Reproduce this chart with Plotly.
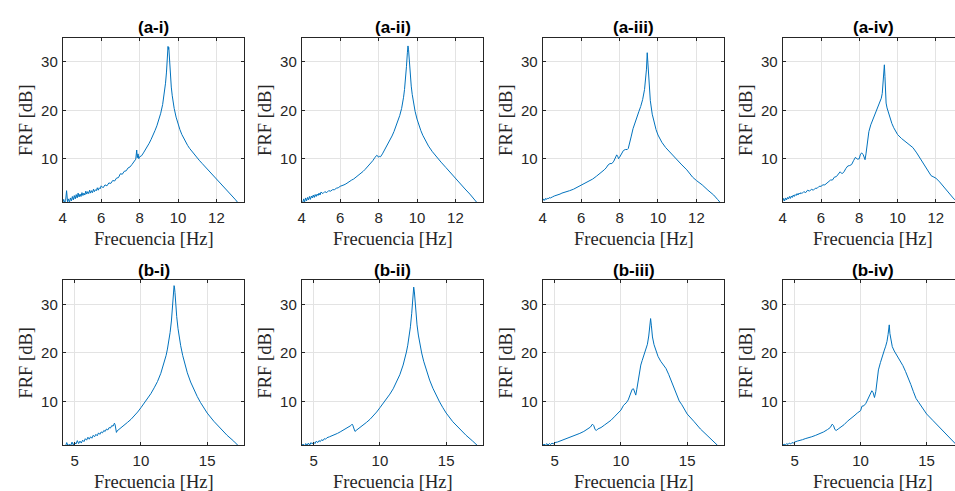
import plotly.graph_objects as go

# ---------------- data: (frequency [Hz], FRF [dB]) ----------------
A_I = [(4.0,1.0),(4.05,1.6),(4.1,0.9),(4.15,1.4),(4.2,3.4),(4.25,1.1),(4.3,1.7),(4.35,1.0),(4.4,1.9),(4.45,1.3),
       (4.5,2.2),(4.55,1.5),(4.6,2.4),(4.65,1.7),(4.7,2.6),(4.75,1.9),(4.8,2.9),(4.85,2.1),(4.9,2.7),(4.95,2.2),
       (5.0,3.0),(5.05,2.4),(5.1,2.9),(5.15,2.5),(5.2,3.3),(5.25,2.7),(5.3,3.2),(5.35,2.8),(5.4,3.5),(5.45,2.9),
       (5.5,3.4),(5.55,3.0),(5.6,3.7),(5.65,3.2),(5.7,3.6),(5.75,3.4),(5.8,4.0),(5.85,3.5),(5.9,4.0),(5.95,3.8),
       (6.0,4.4),(6.1,4.0),(6.2,4.6),(6.3,4.4),(6.4,5.0),(6.5,4.9),(6.6,5.5),(6.7,5.4),(6.8,6.0),(6.9,6.1),
       (7.0,6.9),(7.1,6.8),(7.2,7.4),(7.3,7.5),(7.4,8.1),(7.5,8.3),(7.6,8.8),(7.7,9.3),(7.8,9.9),(7.85,11.8),
       (7.88,10.2),(7.92,11.0),(7.96,10.0),(8.0,10.4),(8.1,10.6),(8.2,11.2),(8.3,11.8),(8.4,12.5),(8.5,13.2),
       (8.6,14.0),(8.7,14.8),(8.8,15.8),(8.9,16.8),(9.0,18.0),(9.1,19.4),(9.2,21.2),(9.25,22.4),(9.3,23.8),
       (9.35,25.6),(9.4,27.9),(9.45,31.0),(9.48,33.2),(9.5,32.6),(9.52,33.0),(9.55,30.5),(9.6,27.0),(9.65,24.8),
       (9.7,23.0),(9.75,21.6),(9.8,20.4),(9.9,18.6),(10.0,17.2),(10.1,16.0),(10.2,15.0),(10.3,14.15),(10.4,13.4),
       (10.5,12.75),(10.6,12.15),(10.8,11.1),(11.0,10.15),(11.1,9.7),(11.25,9.05),(11.5,8.0),(11.75,6.9),
       (12.0,5.75),(12.25,4.7),(12.5,3.65),(12.75,2.6),(13.0,1.5),(13.1,1.0),(13.15,0.8)]

A_II = [(4.0,1.2),(4.05,0.9),(4.1,1.7),(4.15,1.1),(4.2,1.9),(4.25,1.3),(4.3,2.0),(4.35,1.5),(4.4,2.2),(4.45,1.6),
        (4.5,2.3),(4.55,1.9),(4.6,2.5),(4.65,2.0),(4.7,2.6),(4.75,2.2),(4.8,2.7),(4.85,2.4),(4.9,2.9),(4.95,2.5),
        (5.0,3.1),(5.1,2.8),(5.2,3.2),(5.3,3.0),(5.4,3.4),(5.5,3.3),(5.6,3.6),(5.7,3.6),(5.8,3.9),(5.9,4.0),
        (6.0,4.3),(6.1,4.4),(6.2,4.6),(6.3,4.8),(6.4,5.1),(6.5,5.3),(6.6,5.6),(6.7,5.8),(6.8,6.1),(6.9,6.4),
        (7.0,6.8),(7.1,7.1),(7.2,7.4),(7.3,7.8),(7.4,8.2),(7.5,8.6),(7.6,9.1),(7.7,9.6),(7.8,10.2),(7.9,10.7),
        (7.95,10.6),(8.0,10.3),(8.05,10.5),(8.1,10.4),(8.2,11.0),(8.3,11.7),(8.4,12.4),(8.5,13.1),(8.6,13.9),
        (8.7,14.7),(8.8,15.6),(8.9,16.6),(9.0,17.7),(9.1,18.9),(9.2,20.4),(9.25,21.4),(9.3,22.7),(9.35,24.3),
        (9.4,26.3),(9.45,29.0),(9.5,32.0),(9.53,33.3),(9.56,32.5),(9.6,30.0),(9.65,27.2),(9.7,25.0),(9.75,23.3),
        (9.8,21.8),(9.85,20.7),(9.9,19.8),(10.0,18.2),(10.1,16.9),(10.2,15.8),(10.3,14.85),(10.4,14.0),
        (10.5,13.25),(10.6,12.6),(10.8,11.45),(11.0,10.45),(11.1,10.0),(11.25,9.3),(11.5,8.2),(11.75,7.05),
        (12.0,5.9),(12.25,4.8),(12.5,3.75),(12.75,2.7),(13.0,1.6),(13.1,1.1),(13.15,0.8)]

A_III = [(4.0,1.3),(4.05,1.7),(4.1,1.4),(4.15,1.8),(4.2,1.6),(4.25,1.9),(4.3,1.7),(4.35,2.0),(4.4,1.9),(4.45,2.1),
         (4.5,2.1),(4.6,2.3),(4.7,2.4),(4.8,2.6),(4.9,2.7),(5.0,2.9),(5.2,3.1),(5.4,3.4),(5.6,3.7),(5.8,4.1),
         (6.0,4.5),(6.2,4.9),(6.4,5.3),(6.6,5.8),(6.8,6.4),(7.0,7.0),(7.2,7.7),(7.3,8.1),(7.4,8.7),(7.5,9.0),
         (7.6,9.0),(7.7,9.5),(7.8,10.4),(7.85,10.8),(7.9,10.5),(7.95,10.0),(8.0,10.3),(8.1,11.0),(8.2,11.7),
         (8.3,11.9),(8.4,11.9),(8.45,12.1),(8.5,12.8),(8.6,14.5),(8.7,16.2),(8.8,17.5),(8.9,18.6),(9.0,19.7),
         (9.1,20.8),(9.2,22.2),(9.3,24.3),(9.35,26.0),(9.4,28.5),(9.44,31.9),(9.47,30.0),(9.5,27.2),(9.55,24.3),
         (9.6,22.0),(9.7,19.2),(9.8,17.4),(9.9,16.0),(10.0,14.9),(10.2,13.4),(10.4,12.3),(10.6,11.4),(10.8,10.5),
         (11.0,9.7),(11.2,8.9),(11.5,7.7),(11.8,6.2),(12.0,5.5),(12.3,4.6),(12.6,3.5),(12.9,2.5),(13.1,1.6),
         (13.25,0.9)]

A_IV = [(4.0,1.2),(4.05,1.8),(4.1,1.3),(4.15,1.9),(4.2,1.5),(4.25,2.0),(4.3,1.7),(4.35,2.2),(4.4,1.8),(4.45,2.3),
        (4.5,2.0),(4.55,2.5),(4.6,2.2),(4.65,2.6),(4.7,2.4),(4.75,2.8),(4.8,2.5),(4.85,2.9),(4.9,2.7),(4.95,3.0),
        (5.0,2.8),(5.1,3.2),(5.2,3.0),(5.3,3.5),(5.4,3.3),(5.5,3.7),(5.6,3.5),(5.7,3.9),(5.8,3.9),(5.9,4.3),
        (6.0,4.3),(6.1,4.6),(6.2,4.6),(6.3,5.0),(6.4,5.3),(6.5,5.6),(6.6,5.6),(6.7,6.2),(6.8,6.3),(6.9,6.9),
        (7.0,7.3),(7.1,6.9),(7.2,7.3),(7.3,8.0),(7.4,8.5),(7.5,8.6),(7.6,8.8),(7.7,9.6),(7.8,10.3),(7.9,9.9),
        (8.0,10.0),(8.05,10.8),(8.12,11.2),(8.2,10.9),(8.25,10.0),(8.3,9.8),(8.35,11.0),(8.4,13.0),(8.5,15.6),
        (8.6,17.0),(8.7,18.0),(8.8,19.0),(8.9,19.9),(9.0,20.8),(9.1,21.8),(9.15,22.5),(9.2,23.5),(9.25,25.5),
        (9.28,27.5),(9.31,29.4),(9.34,27.0),(9.37,23.5),(9.4,21.5),(9.45,20.5),(9.5,19.8),(9.6,18.5),(9.7,17.3),
        (9.8,16.4),(9.9,15.6),(10.0,15.0),(10.2,14.2),(10.4,13.5),(10.6,13.0),(10.8,12.3),(11.0,11.2),(11.2,10.0),
        (11.4,8.8),(11.6,7.5),(11.75,6.5),(11.9,6.2),(12.0,6.0),(12.2,5.2),(12.4,4.2),(12.5,3.8),(12.6,3.4),
        (12.7,2.8),(12.8,2.3),(12.9,1.9),(13.0,1.5)]

B_I = [(4.1,0.6),(4.2,1.0),(4.3,0.7),(4.4,1.5),(4.5,0.8),(4.6,1.2),(4.7,0.9),(4.8,1.6),(4.9,1.0),(5.0,1.5),
       (5.1,1.2),(5.2,1.9),(5.3,1.3),(5.4,1.8),(5.5,1.4),(5.6,2.0),(5.7,1.7),(5.8,2.3),(5.9,2.0),(6.0,2.6),
       (6.1,2.2),(6.2,2.7),(6.3,2.4),(6.4,3.0),(6.5,2.7),(6.6,3.2),(6.7,2.9),(6.8,3.5),(6.9,3.2),(7.0,3.7),
       (7.1,3.5),(7.2,4.0),(7.3,3.8),(7.4,4.3),(7.5,4.1),(7.6,4.6),(7.7,4.5),(7.8,5.0),(7.9,4.9),(8.0,5.5),
       (8.05,5.2),(8.1,4.2),(8.15,3.6),(8.2,3.9),(8.3,4.1),(8.5,4.6),(8.75,5.1),(9.0,5.7),(9.25,6.3),(9.5,7.0),
       (9.75,7.8),(10.0,8.7),(10.25,9.6),(10.5,10.6),(10.75,11.6),(11.0,12.8),(11.25,14.1),(11.5,15.8),
       (11.75,17.9),(11.9,19.5),(12.0,20.8),(12.1,22.3),(12.2,24.2),(12.3,26.6),(12.38,29.5),(12.45,32.4),
       (12.5,33.9),(12.53,33.6),(12.57,32.5),(12.62,30.0),(12.7,27.5),(12.8,25.0),(12.9,23.1),(13.0,21.5),
       (13.15,19.5),(13.3,17.8),(13.5,15.9),(13.75,14.0),(14.0,12.4),(14.25,11.0),(14.5,9.75),(14.75,8.6),
       (15.0,7.6),(15.5,5.9),(16.0,4.4),(16.5,3.0),(17.0,1.8),(17.3,1.0),(17.4,0.7)]

B_II = [(4.1,0.8),(4.2,1.2),(4.3,0.7),(4.4,1.3),(4.5,0.9),(4.6,1.4),(4.7,1.0),(4.8,1.5),(4.9,1.2),(5.0,1.6),
        (5.1,1.3),(5.2,1.8),(5.3,1.5),(5.4,1.9),(5.5,1.7),(5.6,2.1),(5.7,1.9),(5.8,2.3),(5.9,2.2),(6.0,2.5),
        (6.2,2.7),(6.4,2.9),(6.6,3.1),(6.8,3.4),(7.0,3.7),(7.2,4.0),(7.4,4.3),(7.6,4.6),(7.8,5.0),(7.9,5.3),
        (7.95,5.1),(8.05,4.3),(8.12,3.8),(8.2,4.0),(8.3,4.2),(8.5,4.6),(8.75,5.1),(9.0,5.7),(9.25,6.3),(9.5,7.0),
        (9.75,7.8),(10.0,8.7),(10.25,9.6),(10.5,10.5),(10.75,11.5),(11.0,12.6),(11.25,13.9),(11.5,15.5),
        (11.75,17.5),(11.9,19.0),(12.0,20.2),(12.1,21.6),(12.2,23.3),(12.3,25.4),(12.4,28.2),(12.48,31.3),
        (12.55,33.6),(12.6,32.6),(12.65,30.5),(12.72,28.0),(12.8,25.8),(12.9,23.7),(13.0,22.0),(13.15,20.0),
        (13.3,18.3),(13.5,16.4),(13.75,14.4),(14.0,12.7),(14.25,11.2),(14.5,9.9),(14.75,8.7),(15.0,7.6),
        (15.5,5.8),(16.0,4.3),(16.5,3.0),(17.0,1.8),(17.35,0.9)]

B_III = [(4.1,0.9),(4.2,1.2),(4.3,0.9),(4.4,1.3),(4.5,1.0),(4.6,1.3),(4.7,1.1),(4.8,1.4),(4.9,1.2),(5.0,1.5),
         (5.2,1.6),(5.4,1.8),(5.6,2.0),(5.8,2.2),(6.0,2.4),(6.3,2.7),(6.6,3.0),(6.9,3.4),(7.2,3.8),(7.5,4.3),
         (7.7,4.7),(7.85,5.3),(7.95,5.0),(8.05,4.2),(8.15,4.0),(8.25,4.3),(8.5,4.6),(8.75,5.1),(9.0,5.6),
         (9.25,6.1),(9.5,6.8),(9.75,7.4),(10.0,8.2),(10.2,9.2),(10.4,9.7),(10.55,10.3),(10.7,11.3),(10.85,12.5),
         (10.95,12.6),(11.05,11.8),(11.12,11.3),(11.2,12.5),(11.3,14.5),(11.4,16.3),(11.5,17.5),(11.6,18.4),
         (11.7,19.3),(11.8,20.0),(11.9,20.8),(12.0,21.8),(12.1,23.5),(12.17,25.5),(12.24,27.1),(12.3,25.6),
         (12.38,23.3),(12.5,21.7),(12.65,20.3),(12.8,19.3),(13.0,18.3),(13.2,17.6),(13.4,16.8),(13.6,15.6),
         (13.8,14.3),(14.0,12.9),(14.2,11.5),(14.4,10.1),(14.6,9.3),(14.8,8.4),(15.0,7.4),(15.5,5.9),(16.0,4.3),
         (16.5,3.0),(17.0,1.8),(17.3,0.9)]

B_IV = [(4.1,0.9),(4.2,1.2),(4.3,1.0),(4.4,1.3),(4.5,1.1),(4.6,1.4),(4.7,1.2),(4.8,1.5),(4.9,1.4),(5.0,1.6),
        (5.2,1.8),(5.4,1.9),(5.6,2.1),(5.8,2.3),(6.0,2.4),(6.3,2.7),(6.6,3.0),(6.9,3.3),(7.2,3.7),(7.5,4.2),
        (7.7,4.6),(7.85,5.3),(7.95,5.0),(8.05,4.2),(8.15,4.0),(8.3,4.3),(8.5,4.7),(8.75,5.2),(9.0,5.9),
        (9.25,6.4),(9.5,7.0),(9.75,7.6),(9.9,8.0),(10.0,8.1),(10.1,9.0),(10.25,9.1),(10.4,9.6),(10.55,10.4),
        (10.7,11.4),(10.85,12.2),(10.95,11.8),(11.05,10.8),(11.15,12.0),(11.25,14.0),(11.35,16.5),(11.5,18.0),
        (11.6,19.0),(11.7,19.8),(11.8,20.6),(11.9,21.4),(12.0,22.4),(12.08,23.8),(12.17,25.8),(12.22,24.0),
        (12.3,22.3),(12.4,21.3),(12.55,20.4),(12.7,19.7),(12.85,19.0),(13.0,18.4),(13.2,17.4),(13.4,16.2),
        (13.6,15.0),(13.8,13.5),(14.0,12.0),(14.2,10.6),(14.4,9.8),(14.6,9.0),(14.8,8.2),(15.0,7.4),(15.5,6.0),
        (16.0,4.6),(16.5,3.2),(17.0,1.8),(17.2,1.2)]

TITLES = ["(a-i)", "(a-ii)", "(a-iii)", "(a-iv)", "(b-i)", "(b-ii)", "(b-iii)", "(b-iv)"]
SERIES = [A_I, A_II, A_III, A_IV, B_I, B_II, B_III, B_IV]
TOP_XTICKS = [4, 6, 8, 10, 12]
BOT_XTICKS = [5, 10, 15]
Y_TICKS = [10, 20, 30]
X_LABEL = "Frecuencia [Hz]"
Y_LABEL = "FRF [dB]"

# ---------------- layout geometry (pixels) ----------------
W, H = 955, 491
AXW = 182.3
COLS = [(59, 241.3), (299, 481.3), (541, 723.3), (782, 955)]
ROWS = [(37.7, 202.3), (280.3, 445)]
XR_TOP = [[4, 13.45], [4, 13.45], [4, 13.45], [4, 13.0]]
XR_BOT = [[4.1, 17.8], [4.1, 17.8], [4.1, 17.8], [4.1, 17.15]]
YR = [1, 35]

BLUE = "#0072BD"
AXC = "#262626"
GRID = "#e3e3e3"
SANS = "Liberation Sans, Arial, Helvetica, sans-serif"
SERIF = "Liberation Serif, Times New Roman, serif"


def px_x(x):
    return x / W


def px_y(y):
    return 1 - y / H


fig = go.Figure()
layout = dict(width=W, height=H, margin=dict(l=0, r=0, t=0, b=0),
              paper_bgcolor="white", plot_bgcolor="white", showlegend=False)
annotations = []

for i, (title, data) in enumerate(zip(TITLES, SERIES)):
    r, c = divmod(i, 4)
    n = i + 1
    xs = [p[0] for p in data]
    ys = [p[1] for p in data]
    fig.add_trace(go.Scatter(x=xs, y=ys, mode="lines",
                             line=dict(color=BLUE, width=1),
                             xaxis=f"x{n}", yaxis=f"y{n}", hoverinfo="skip"))
    x0, x1 = COLS[c]
    yt, yb = ROWS[r]
    last = (c == 3)
    common = dict(showline=True, linecolor=AXC, linewidth=1, ticks="inside", ticklen=3,
                  tickcolor=AXC, tickwidth=1, showgrid=True, gridcolor=GRID, gridwidth=1,
                  zeroline=False, tickfont=dict(family=SANS, size=15, color=AXC))
    layout[f"xaxis{n}"] = dict(common, domain=[px_x(x0), px_x(x1)], anchor=f"y{n}",
                               range=XR_TOP[c] if r == 0 else XR_BOT[c],
                               tickvals=TOP_XTICKS if r == 0 else BOT_XTICKS,
                               mirror="ticks", ticklabelstandoff=2)
    layout[f"yaxis{n}"] = dict(common, domain=[px_y(yb), px_y(yt)], anchor=f"x{n}",
                               range=YR, tickvals=Y_TICKS,
                               mirror=False if last else "ticks", ticklabelstandoff=1)
    cx = x0 + AXW / 2
    # title
    annotations.append(dict(text=f"<b>{title}</b>", x=px_x(cx), y=px_y(yt - 10),
                            xref="paper", yref="paper", showarrow=False, xanchor="center",
                            yanchor="middle", font=dict(family=SANS, size=17, color="black")))
    # x label
    annotations.append(dict(text=X_LABEL, x=px_x(cx), y=px_y(yb + 36.5),
                            xref="paper", yref="paper", showarrow=False, xanchor="center",
                            yanchor="middle", font=dict(family=SERIF, size=18.5, color=AXC)))
    # y label
    annotations.append(dict(text=Y_LABEL, x=px_x(x0 - 37), y=px_y((yt + yb) / 2),
                            xref="paper", yref="paper", showarrow=False, xanchor="center",
                            yanchor="middle", textangle=-90,
                            font=dict(family=SERIF, size=18.5, color=AXC)))

layout["annotations"] = annotations
fig.update_layout(**layout)
fig.write_html("out.html", config={"displayModeBar": False, "staticPlot": True},
               post_script="document.body.style.margin='0px';document.body.style.overflow='hidden';")
